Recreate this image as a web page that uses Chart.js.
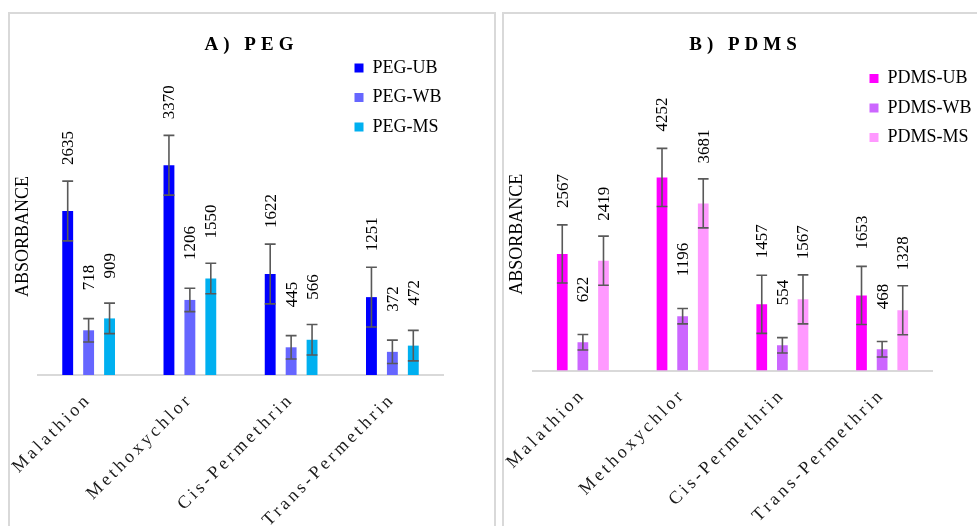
<!DOCTYPE html>
<html>
<head>
<meta charset="utf-8">
<script src="https://cdn.jsdelivr.net/npm/chart.js@4.4.1/dist/chart.umd.min.js"></script>
<style>
  body { margin: 0; background: #fff; width: 977px; height: 526px; overflow: hidden; position: relative; }
  .panel { position: absolute; top: 12px; width: 488px; height: 540px; border: 2px solid #d9d9d9; box-sizing: border-box; }
  canvas { position: absolute; top: 14px; }
</style>
</head>
<body>
<div class="panel" style="left:8px"></div>
<div class="panel" style="left:502px"></div>
<canvas id="pegChart" width="483" height="512" style="left:10px"></canvas>
<canvas id="pdmsChart" width="483" height="512" style="left:504px"></canvas>
<script>
const categories = ["Malathion", "Methoxychlor", "Cis-Permethrin", "Trans-Permethrin"];

const pegSeries = ["PEG-UB", "PEG-WB", "PEG-MS"];
const pegUB = [2635, 3370, 1622, 1251];
const pegWB = [718, 1206, 445, 372];
const pegMS = [909, 1550, 566, 472];
const pegErrUB = [480, 480, 480, 480];
const pegErrWB = [188, 188, 188, 188];
const pegErrMS = [245, 245, 245, 245];

const pdmsSeries = ["PDMS-UB", "PDMS-WB", "PDMS-MS"];
const pdmsUB = [2567, 4252, 1457, 1653];
const pdmsWB = [622, 1196, 554, 468];
const pdmsMS = [2419, 3681, 1567, 1328];
const pdmsErrUB = [640, 640, 640, 640];
const pdmsErrWB = [170, 170, 170, 170];
const pdmsErrMS = [540, 540, 540, 540];

const serif = "'Liberation Serif', 'Times New Roman', serif";

// letter spaced title / category labels, legend floated over the plot
const layoutTweaks = {
  id: "layoutTweaks",
  beforeLayout(chart, args, opts) {
    const legend = chart.legend;
    if (legend && !legend._patched) {
      const fit = legend.fit;
      legend.fit = function () { fit.call(this); this.width = opts.reserve; };
      legend._patched = true;
    }
    const x = chart.scales.x;
    if (x && !x._patched) {
      const drawLabels = x.drawLabels;
      x.drawLabels = function (area) {
        this.ctx.save();
        this.ctx.letterSpacing = "3.3px";
        drawLabels.call(this, area);
        this.ctx.restore();
      };
      x._patched = true;
    }
    const tb = chart.titleBlock;
    if (tb && !tb._patched) {
      const draw = tb.draw;
      tb.draw = function () {
        this.ctx.save();
        this.ctx.letterSpacing = "5px";
        draw.call(this);
        this.ctx.restore();
      };
      tb._patched = true;
    }
  },
  afterLayout(chart, args, opts) {
    const lg = chart.legend;
    lg.left = opts.x;
    lg.top = opts.y;
    lg.width = 130;
    lg.height = 120;
    lg.right = lg.left + 130;
    lg.bottom = lg.top + 120;
  }
};

const errorBars = {
  id: "errorBars",
  afterDatasetsDraw(chart) {
    const ctx = chart.ctx;
    const y = chart.scales.y;
    chart.data.datasets.forEach((ds, di) => {
      chart.getDatasetMeta(di).data.forEach((bar, i) => {
        const hi = y.getPixelForValue(ds.data[i] + ds.errors[i]);
        const lo = y.getPixelForValue(ds.data[i] - ds.errors[i]);
        const half = bar.width / 2;
        ctx.save();
        ctx.strokeStyle = "#595959";
        ctx.lineWidth = 1.6;
        ctx.beginPath();
        ctx.moveTo(bar.x, hi); ctx.lineTo(bar.x, lo);
        ctx.moveTo(bar.x - half, hi); ctx.lineTo(bar.x + half, hi);
        ctx.moveTo(bar.x - half, lo); ctx.lineTo(bar.x + half, lo);
        ctx.stroke();
        ctx.restore();
      });
    });
  }
};

const valueLabels = {
  id: "valueLabels",
  afterDatasetsDraw(chart, args, opts) {
    const ctx = chart.ctx;
    chart.data.datasets.forEach((ds, di) => {
      chart.getDatasetMeta(di).data.forEach((bar, i) => {
        ctx.save();
        ctx.translate(bar.x + 1, bar.y - opts.gaps[di]);
        ctx.rotate(-Math.PI / 2);
        ctx.font = `17px ${serif}`;
        ctx.fillStyle = "#000";
        ctx.textAlign = "left";
        ctx.textBaseline = "middle";
        ctx.fillText(String(ds.data[i]), 0, 0);
        ctx.restore();
      });
    });
  }
};

function makeChart(id, title, names, values, errors, colors, opt) {
  const datasets = names.map((name, k) => ({
    label: name,
    data: values[k],
    errors: errors[k],
    backgroundColor: colors[k],
    barPercentage: 0.52,
    categoryPercentage: 0.62
  }));

  return new Chart(document.getElementById(id), {
    type: "bar",
    data: { labels: categories, datasets },
    options: {
      responsive: false,
      animation: false,
      layout: { padding: 0 },
      plugins: {
        title: {
          display: true,
          text: title,
          color: "#000",
          font: { family: serif, size: 19, weight: "bold" },
          padding: { top: 19.5, bottom: opt.titleBottom }
        },
        legend: {
          position: "right",
          align: "start",
          labels: {
            boxWidth: 9,
            boxHeight: 9,
            padding: 11.5,
            color: "#000",
            font: { family: serif, size: 18 }
          }
        },
        tooltip: { enabled: false },
        layoutTweaks: { x: opt.legendX, y: opt.legendY, reserve: opt.padRight },
        valueLabels: { gaps: [46, 40, 40] }
      },
      scales: {
        x: {
          grid: { display: false, drawTicks: false },
          border: { display: true, color: "#d9d9d9", width: 2 },
          ticks: {
            autoSkip: false,
            minRotation: 45,
            maxRotation: 45,
            padding: 14,
            color: "#1a1a1a",
            font: { family: serif, size: 18 }
          },
          afterFit: s => { s.height = opt.axisHeight; }
        },
        y: {
          min: 0,
          max: opt.yMax,
          grid: { display: false },
          border: { display: false },
          ticks: { display: false },
          title: {
            display: true,
            text: "ABSORBANCE",
            color: "#000",
            font: { family: serif, size: 18 },
            padding: { top: 2, bottom: 0 }
          },
          afterFit: s => { s.width = opt.axisWidth; }
        }
      }
    },
    plugins: [layoutTweaks, errorBars, valueLabels]
  });
}

makeChart("pegChart", "A) PEG", pegSeries,
  [pegUB, pegWB, pegMS], [pegErrUB, pegErrWB, pegErrMS],
  ["#0000ff", "#6666ff", "#00b0f0"],
  { padRight: 50, titleBottom: 41.7, axisHeight: 151, axisWidth: 28, yMax: 4450, legendX: 333, legendY: 33.5 });

makeChart("pdmsChart", "B) PDMS", pdmsSeries,
  [pdmsUB, pdmsWB, pdmsMS], [pdmsErrUB, pdmsErrWB, pdmsErrMS],
  ["#ff00ff", "#cc66ff", "#ff99ff"],
  { padRight: 55, titleBottom: 41.8, axisHeight: 155.5, axisWidth: 29, yMax: 6000, legendX: 354, legendY: 44 });
</script>
</body>
</html>
